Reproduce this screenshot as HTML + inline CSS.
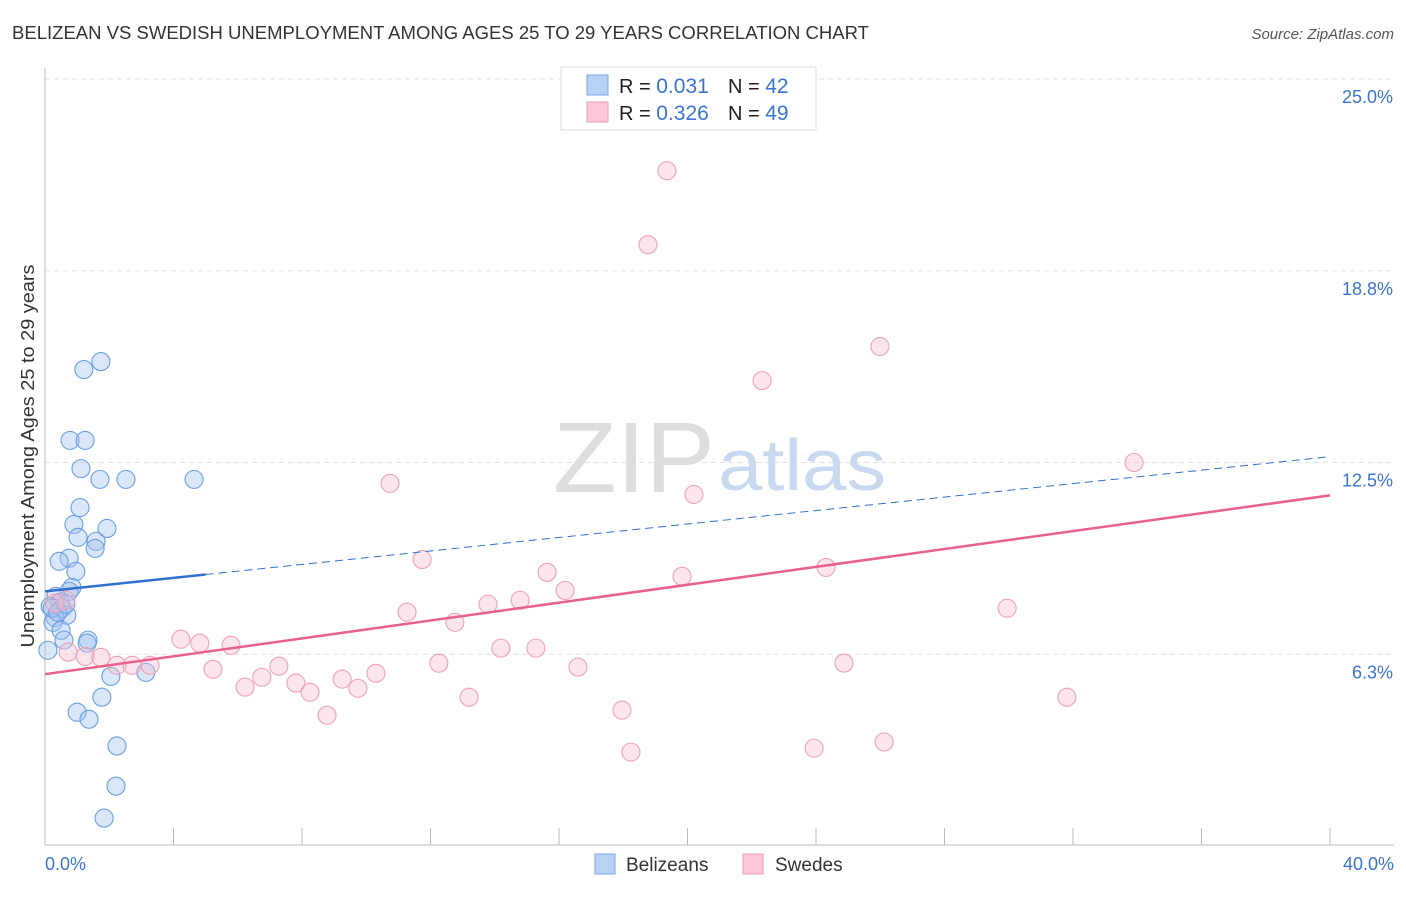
<!DOCTYPE html>
<html><head><meta charset="utf-8"><style>
body{margin:0;background:#fff;font-family:"Liberation Sans",sans-serif;}
svg text{font-family:"Liberation Sans",sans-serif;}
</style></head><body>
<svg id="chart" width="1406" height="892" viewBox="0 0 1406 892">
<text x="12" y="39" font-size="18" fill="#333" textLength="857" lengthAdjust="spacingAndGlyphs">BELIZEAN VS SWEDISH UNEMPLOYMENT AMONG AGES 25 TO 29 YEARS CORRELATION CHART</text>
<text x="1394" y="39" font-size="15" fill="#555" font-style="italic" text-anchor="end">Source: ZipAtlas.com</text>
<g id="grid"></g>
<text x="553" y="492" font-size="100" fill="#ddd" font-family="Liberation Serif" textLength="162" lengthAdjust="spacingAndGlyphs">ZIP</text>
<text x="718" y="490" font-size="72" fill="#c8d8ee" textLength="168" lengthAdjust="spacingAndGlyphs">atlas</text>
<g id="marks"></g>
<text transform="translate(34,456) rotate(-90)" font-size="18" fill="#333" text-anchor="middle" textLength="383" lengthAdjust="spacingAndGlyphs">Unemployment Among Ages 25 to 29 years</text>
<text x="45" y="870" font-size="18" fill="#3a74d0">0.0%</text>
<text x="1394" y="870" font-size="18" fill="#3a74d0" text-anchor="end">40.0%</text>
<g>
<rect x="561" y="67" width="255" height="63" fill="#fff" stroke="#ddd"/>
<rect x="587" y="75" width="21" height="20" fill="#b8d2f4" stroke="#7aa6e6"/>
<rect x="587" y="102" width="21" height="20" fill="#fac8d6" stroke="#ec9ab2"/>
<text x="619" y="93" font-size="20" fill="#222">R = <tspan fill="#3a74d0" font-size="21">0.031</tspan></text>
<text x="728" y="93" font-size="20" fill="#222">N = <tspan fill="#3a74d0" font-size="21">42</tspan></text>
<text x="619" y="120" font-size="20" fill="#222">R = <tspan fill="#3a74d0" font-size="21">0.326</tspan></text>
<text x="728" y="120" font-size="20" fill="#222">N = <tspan fill="#3a74d0" font-size="21">49</tspan></text>
</g>
<g>
<rect x="595" y="854" width="20" height="20" fill="#b8d2f4" stroke="#7aa6e6"/>
<text x="626" y="871" font-size="19" fill="#333">Belizeans</text>
<rect x="743" y="854" width="20" height="20" fill="#fac8d6" stroke="#ec9ab2"/>
<text x="775" y="871" font-size="19" fill="#333">Swedes</text>
</g>
</svg>
<script>
const yTicks=[6.25,12.5,18.75,25];
const yTickLabels=["6.3%","12.5%","18.8%","25.0%"];
const xTicks=[0,4,8,12,16,20,24,28,32,36,40];
const belX=[1.74,1.21,0.78,1.25,1.12,1.71,2.52,4.64,1.09,0.90,1.93,1.59,1.56,1.03,0.75,0.44,0.96,0.84,0.75,0.34,0.47,0.16,0.53,0.68,0.31,0.25,0.50,1.34,0.59,0.09,1.31,2.05,3.14,1.77,1.00,1.37,2.24,2.21,1.84,0.22,0.40,0.65];
const belY=[15.79,15.53,13.22,13.22,12.30,11.95,11.95,11.95,11.03,10.48,10.35,9.93,9.70,10.06,9.38,9.28,8.95,8.43,8.30,8.14,7.94,7.81,7.75,7.52,7.45,7.29,7.03,6.71,6.71,6.38,6.61,5.53,5.66,4.85,4.36,4.13,3.26,1.95,0.91,7.75,7.62,7.88];
const sweX=[19.36,18.77,25.99,22.32,33.90,10.74,20.20,11.74,15.63,24.31,19.83,16.19,14.79,13.79,29.95,11.27,12.76,0.65,0.31,4.23,4.82,5.79,14.19,15.28,0.72,1.25,1.74,2.24,2.71,3.27,5.23,7.28,12.26,16.59,24.87,6.75,10.30,7.81,9.25,6.23,8.25,9.74,13.20,31.81,8.78,17.96,26.12,23.94,18.24];
const sweY=[22.01,19.60,16.28,15.17,12.50,11.82,11.46,9.34,8.92,9.08,8.79,8.33,8.01,7.88,7.75,7.62,7.29,8.01,7.91,6.74,6.61,6.54,6.45,6.45,6.32,6.18,6.15,5.89,5.89,5.89,5.76,5.86,5.96,5.83,5.96,5.50,5.63,5.31,5.44,5.18,5.01,5.14,4.85,4.85,4.26,4.43,3.39,3.19,3.06];
const belTrend=[8.30,12.69];
const sweTrend=[5.60,11.43];
const NS="http://www.w3.org/2000/svg";
const X0=45,X1=1330,YB=846,YT=79;
function sx(v){return X0+(v/40)*(X1-X0);}
function sy(v){return YB-(v/25)*(YB-YT);}
function mk(tag,attrs,parent){const e=document.createElementNS(NS,tag);for(const k in attrs)e.setAttribute(k,attrs[k]);parent.appendChild(e);return e;}
const grid=document.getElementById('grid');
const marks=document.getElementById('marks');
yTicks.forEach((t,i)=>{
  const l=mk('line',{x1:X0,x2:1394,y1:sy(t),y2:sy(t),stroke:'#e2e2e2','stroke-dasharray':'5,4'},grid);
  
  
  const tx=mk('text',{x:1393,y:sy(t)+24,'font-size':18,fill:'#3a74d0','text-anchor':'end'},grid);
  tx.textContent=yTickLabels[i];
  
  
});
const ax=mk('line',{x1:X0,x2:X0,y1:68,y2:845,stroke:'#bbb'},grid);


const bx=mk('line',{x1:X0,x2:1394,y1:845,y2:845,stroke:'#bbb'},grid);


xTicks.forEach(t=>{
  const l=mk('line',{x1:sx(t),x2:sx(t),y1:828,y2:845,stroke:'#bbb'},grid);
  
  
});
belX.forEach((v,i)=>{
  const c=mk('circle',{cx:sx(v),cy:sy(belY[i]),r:9,fill:'rgba(160,196,240,0.4)',stroke:'#6a9ee0','stroke-width':1.1},marks);
  
  
});
sweX.forEach((v,i)=>{
  const c=mk('circle',{cx:sx(v),cy:sy(sweY[i]),r:9,fill:'rgba(248,190,208,0.4)',stroke:'#eea0b8','stroke-width':1.1},marks);
  
  
});
const bSplit=5;
const bMid=belTrend[0]+(belTrend[1]-belTrend[0])*bSplit/40;
const t1=mk('line',{x1:sx(0),y1:sy(belTrend[0]),x2:sx(bSplit),y2:sy(bMid),stroke:'#2f6fd1','stroke-width':2.5},marks);


const t2=mk('line',{x1:sx(bSplit),y1:sy(bMid),x2:sx(40),y2:sy(belTrend[1]),stroke:'#2f6fd1','stroke-width':1,'stroke-dasharray':'8,5'},marks);


const t3=mk('line',{x1:sx(0),y1:sy(sweTrend[0]),x2:sx(40),y2:sy(sweTrend[1]),stroke:'#e8608c','stroke-width':2.5},marks);


</script>
</body></html>
